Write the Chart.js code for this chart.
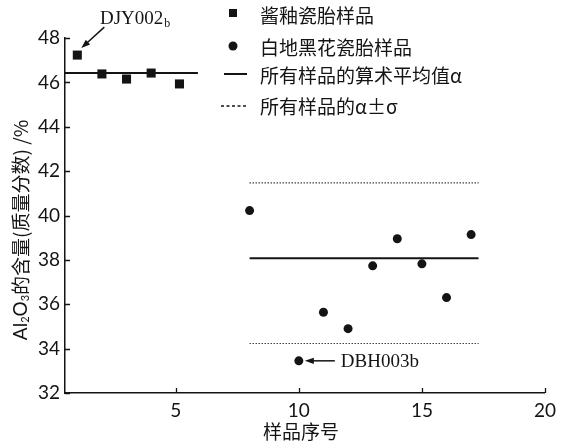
<!DOCTYPE html>
<html>
<head>
<meta charset="utf-8">
<script src="https://cdn.jsdelivr.net/npm/chart.js@4"></script>
<style>
  html, body { margin: 0; padding: 0; background: #fff; }
  #wrap { width: 562px; height: 448px; }
</style>
</head>
<body>
<div id="wrap"><canvas id="c" width="562" height="448"></canvas></div>
<script>
// 酱釉瓷胎样品
const brownX = [1, 2, 3, 4, 5.15];
const brownY = [47.23, 46.38, 46.15, 46.42, 45.93];
// 白地黑花瓷胎样品
const whiteX = [8, 10, 11, 12, 13, 14, 15, 16, 17];
const whiteY = [40.22, 33.45, 35.64, 34.9, 37.73, 38.95, 37.82, 36.3, 39.14];
// mean lines and mean ± sigma
const brownMean = 46.42;
const brownSpan = [0.5, 5.9];
const whiteMean = 38.07;
const whiteSigmaHi = 41.47;
const whiteSigmaLo = 34.23;
const whiteSpan = [8, 17.3];
const xTicks = [5, 10, 15, 20];
const yTicks = [32, 34, 36, 38, 40, 42, 44, 46, 48];

const INK = '#141414';
const CJK = '"Noto Sans CJK SC", sans-serif';
const NUM = 'Lato, "Liberation Sans", sans-serif';
const SERIF = '"Liberation Serif", serif';

const pts = (xs, ys) => xs.map((x, i) => ({ x, y: ys[i] }));
const hline = (span, y) => span.map(x => ({ x, y }));

const overlay = {
    id: 'overlay',
    afterDraw(chart) {
        const c = chart.ctx;
        const { x, y } = chart.scales;
        const area = chart.chartArea;
        c.save();
        c.strokeStyle = INK;
        c.fillStyle = INK;
        c.lineWidth = 1.3;

        // inward tick marks
        c.beginPath();
        yTicks.forEach(v => {
            const py = Math.round(y.getPixelForValue(v)) + 0.5;
            c.moveTo(area.left, py); c.lineTo(area.left + 5, py);
        });
        xTicks.forEach(v => {
            const px = Math.round(x.getPixelForValue(v)) + 0.5;
            c.moveTo(px, area.bottom); c.lineTo(px, area.bottom - 5);
        });
        c.stroke();

        // y title with subscripts
        c.save();
        c.translate(21, 230);
        c.rotate(-Math.PI / 2);
        const parts = [
            ['Al', '19px ' + NUM, 0],
            ['2', '11px ' + NUM, 4],
            ['O', '19px ' + NUM, 0],
            ['3', '11px ' + NUM, 4],
            ['的含量(质量分数) /%', '19px ' + CJK, 0],
        ];
        let total = 0;
        parts.forEach(p => { c.font = p[1]; total += c.measureText(p[0]).width; });
        let cx = -total / 2;
        c.textBaseline = 'middle';
        c.textAlign = 'left';
        parts.forEach(p => {
            c.font = p[1];
            c.fillText(p[0], cx, p[2]);
            cx += c.measureText(p[0]).width;
        });
        c.restore();

        // x title
        c.font = '19px ' + CJK;
        c.textAlign = 'center';
        c.textBaseline = 'middle';
        c.fillText('样品序号', 301, 432);

        // annotation DJY002b
        const ax = x.getPixelForValue(brownX[0]);
        const ay = y.getPixelForValue(brownY[0]);
        arrow(c, ax + 27, ay - 28, ax + 4, ay - 7);
        c.font = '19px ' + SERIF;
        c.textAlign = 'left';
        c.textBaseline = 'alphabetic';
        c.fillText('DJY002', 100, 24);
        const w = c.measureText('DJY002').width;
        c.font = '12px ' + SERIF;
        c.fillText('b', 100 + w + 1, 27);

        // annotation DBH003b
        const bx = x.getPixelForValue(whiteX[1]);
        const by = y.getPixelForValue(whiteY[1]);
        arrow(c, bx + 36, by, bx + 6, by);
        c.font = '19px ' + SERIF;
        c.textBaseline = 'middle';
        c.fillText('DBH003b', bx + 42, by + 1);

        // legend
        const lx = 233, tx = 260;
        const rows = [13, 46, 74, 106];
        c.fillRect(lx - 4, rows[0] - 4, 8, 8);
        c.beginPath(); c.arc(lx, rows[1], 4.5, 0, Math.PI * 2); c.fill();
        c.lineWidth = 2;
        c.beginPath(); c.moveTo(224, rows[2]); c.lineTo(247, rows[2]); c.stroke();
        c.lineWidth = 1.5;
        c.setLineDash([3, 2.5]);
        c.beginPath(); c.moveTo(221, rows[3]); c.lineTo(248, rows[3]); c.stroke();
        c.setLineDash([]);
        c.font = '19px ' + CJK;
        c.textBaseline = 'middle';
        c.fillText('酱釉瓷胎样品', tx, rows[0] + 3);
        c.fillText('白地黑花瓷胎样品', tx, rows[1] + 2);
        c.fillText('所有样品的算术平均值α', tx, rows[2] + 2);
        c.fillText('所有样品的α±σ', tx, rows[3] + 1);
        c.restore();
    }
};

function arrow(c, x0, y0, x1, y1) {
    const a = Math.atan2(y1 - y0, x1 - x0);
    const hl = 9, hw = 3.2;
    c.lineWidth = 1.5;
    c.beginPath();
    c.moveTo(x0, y0);
    c.lineTo(x1 - Math.cos(a) * hl * 0.8, y1 - Math.sin(a) * hl * 0.8);
    c.stroke();
    c.beginPath();
    c.moveTo(x1, y1);
    c.lineTo(x1 - Math.cos(a) * hl - Math.sin(a) * hw, y1 - Math.sin(a) * hl + Math.cos(a) * hw);
    c.lineTo(x1 - Math.cos(a) * hl + Math.sin(a) * hw, y1 - Math.sin(a) * hl - Math.cos(a) * hw);
    c.closePath();
    c.fill();
}

const lineSet = (data, width, dash) => ({
    type: 'line',
    data,
    borderColor: INK,
    borderWidth: width,
    borderDash: dash,
    pointRadius: 0,
    fill: false,
    clip: false,
});

new Chart(document.getElementById('c'), {
    type: 'scatter',
    data: {
        datasets: [
            { data: pts(brownX, brownY), pointStyle: 'rect', pointRadius: 6.4,
              backgroundColor: INK, borderColor: INK, borderWidth: 0, clip: false },
            { data: pts(whiteX, whiteY), pointStyle: 'circle', pointRadius: 4.5,
              backgroundColor: INK, borderColor: INK, borderWidth: 0, clip: false },
            lineSet(hline(brownSpan, brownMean), 2, []),
            lineSet(hline(whiteSpan, whiteMean), 2, []),
            lineSet(hline(whiteSpan, whiteSigmaHi), 1.2, [1.2, 1.8]),
            lineSet(hline(whiteSpan, whiteSigmaLo), 1.2, [1.2, 1.8]),
        ]
    },
    options: {
        responsive: false,
        animation: false,
        layout: { padding: { left: 0, right: 12, top: 38, bottom: 0 } },
        plugins: { legend: { display: false }, tooltip: { enabled: false } },
        scales: {
            x: {
                type: 'linear',
                min: 0.5,
                max: 20,
                afterBuildTicks: (s) => { s.ticks = xTicks.map(v => ({ value: v })); },
                afterFit: (s) => { s.height = 55; },
                grid: { display: false, drawTicks: false },
                border: { display: true, color: INK, width: 1.5 },
                ticks: { color: INK, font: { family: NUM, size: 19 }, padding: 6, maxRotation: 0 },
            },
            y: {
                type: 'linear',
                min: 32,
                max: 48,
                afterBuildTicks: (s) => { s.ticks = yTicks.map(v => ({ value: v })); },
                afterFit: (s) => { s.width = 65; },
                grid: { display: false, drawTicks: false },
                border: { display: true, color: INK, width: 1.5 },
                ticks: { color: INK, font: { family: NUM, size: 19 }, padding: 5 },
            }
        }
    },
    plugins: [overlay]
});
</script>
</body>
</html>
